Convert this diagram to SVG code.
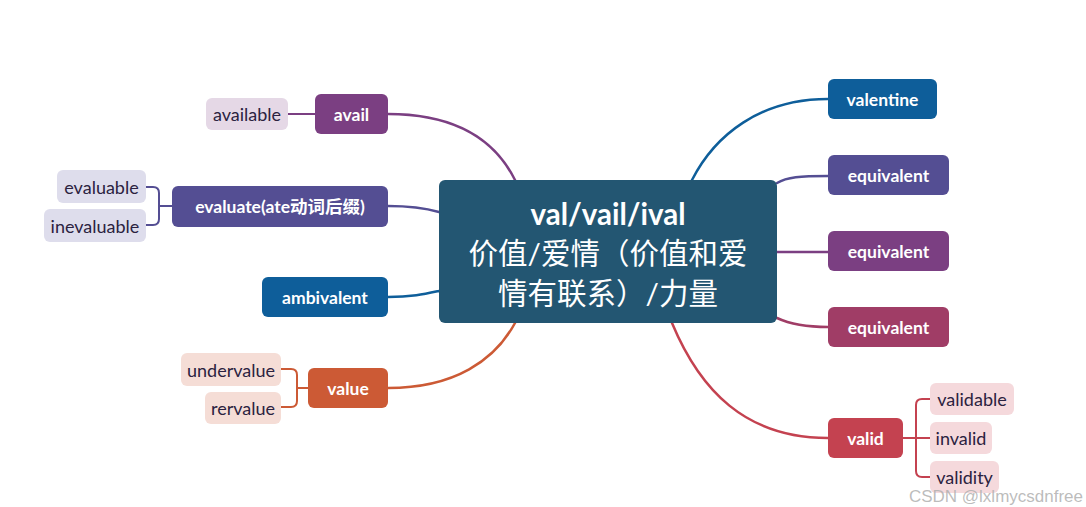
<svg xmlns="http://www.w3.org/2000/svg" width="1086" height="507" viewBox="0 0 1086 507">
<style>
.t{font-family:Lato,"Noto Sans","Noto Sans CJK SC",sans-serif;text-anchor:middle;dominant-baseline:central}
.m{fill:#fff;font-weight:bold;font-size:17.5px}
.s{fill:#2b2240;font-size:18px}
.c{fill:#fff;font-size:29.5px}
.ln{fill:none;stroke-width:2.5;stroke-linecap:round}
.sl{fill:none;stroke-width:2}
</style>
<rect width="1086" height="507" fill="#fff"/>
<g id="connectors">
<path class="ln" stroke="#7B3F82" d="M388,114 C455,114 495,140 515,180"/>
<path class="ln" stroke="#544E93" d="M388,206 C412,206 425,208 439,212"/>
<path class="ln" stroke="#0E5E9A" d="M388,297 C412,297 425,294 439,291"/>
<path class="ln" stroke="#CC5A35" d="M388,388 C455,388 495,360 515,323"/>
<path class="ln" stroke="#0E5E9A" d="M828,99 C760,99 715,135 692,180"/>
<path class="ln" stroke="#544E93" d="M828,176 C800,176 787,177 777,183"/>
<path class="ln" stroke="#7B3F82" d="M777,252 L828,252"/>
<path class="ln" stroke="#A03D66" d="M777,318 C792,325 808,327 828,327"/>
<path class="ln" stroke="#C44250" d="M828,438 C745,438 700,390 672,323"/>
<path class="sl" stroke="#7B3F82" d="M288,114 L315,114"/>
<path class="sl" stroke="#544E93" d="M172,206 L159,206 M146,187 L153,187 Q159,187 159,193 L159,219 Q159,225 153,225 L146,225"/>
<path class="sl" stroke="#CC5A35" d="M308,388 L297,388 M281,369 L291,369 Q297,369 297,375 L297,401 Q297,407 291,407 L281,407"/>
<path class="sl" stroke="#C44250" d="M903,438 L930,438 M930,399 L922,399 Q916,399 916,405 L916,471 Q916,477 922,477 L930,477"/>
</g>
<g id="center">
<rect x="439" y="180" width="338" height="143" rx="6" fill="#235672"/>
<text class="t c" x="608" y="213" font-weight="bold">val/vail/ival</text>
<text class="t c" x="608" y="252">价值/爱情（价值和爱</text>
<text class="t c" x="608" y="292">情有联系）/力量</text>
</g>
<g id="avail"><rect x="315" y="94" width="73" height="40" rx="6" fill="#7B3F82"/><text class="t m" x="351.5" y="114">avail</text></g>
<g id="available"><rect x="206" y="98" width="82" height="32" rx="6" fill="#E5D8E6"/><text class="t s" x="247" y="114">available</text></g>
<g id="evaluate"><rect x="172" y="186" width="216" height="41" rx="6" fill="#544E93"/><text class="t m" x="280" y="206.5">evaluate(ate动词后缀)</text></g>
<g id="evaluable"><rect x="57" y="170" width="89" height="33" rx="6" fill="#DEDDEC"/><text class="t s" x="101.5" y="186.5">evaluable</text></g>
<g id="inevaluable"><rect x="44" y="209" width="102" height="33" rx="6" fill="#DEDDEC"/><text class="t s" x="95" y="225.5">inevaluable</text></g>
<g id="ambivalent"><rect x="262" y="277" width="126" height="40" rx="6" fill="#0E5E9A"/><text class="t m" x="325" y="297">ambivalent</text></g>
<g id="value"><rect x="308" y="368" width="80" height="40" rx="6" fill="#CC5A35"/><text class="t m" x="348" y="388">value</text></g>
<g id="undervalue"><rect x="181" y="353" width="100" height="33" rx="6" fill="#F5DDD6"/><text class="t s" x="231" y="369.5">undervalue</text></g>
<g id="rervalue"><rect x="205" y="392" width="76" height="32" rx="6" fill="#F5DDD6"/><text class="t s" x="243" y="408">rervalue</text></g>
<g id="valentine"><rect x="828" y="79" width="109" height="40" rx="6" fill="#0E5E9A"/><text class="t m" x="882.5" y="99">valentine</text></g>
<g id="equivalent1"><rect x="828" y="155" width="121" height="40" rx="6" fill="#544E93"/><text class="t m" x="888.5" y="175">equivalent</text></g>
<g id="equivalent2"><rect x="828" y="231" width="121" height="40" rx="6" fill="#7B3F82"/><text class="t m" x="888.5" y="251">equivalent</text></g>
<g id="equivalent3"><rect x="828" y="307" width="121" height="40" rx="6" fill="#A03D66"/><text class="t m" x="888.5" y="327">equivalent</text></g>
<g id="valid"><rect x="828" y="418" width="75" height="40" rx="6" fill="#C44250"/><text class="t m" x="865.5" y="438">valid</text></g>
<g id="validable"><rect x="930" y="383" width="84" height="32" rx="6" fill="#F5D9DC"/><text class="t s" x="972" y="399">validable</text></g>
<g id="invalid"><rect x="930" y="422" width="62" height="32" rx="6" fill="#F5D9DC"/><text class="t s" x="961" y="438">invalid</text></g>
<g id="validity"><rect x="930" y="461" width="69" height="32" rx="6" fill="#F5D9DC"/><text class="t s" x="964.5" y="477">validity</text></g>
<text x="1083" y="496" font-family="'Liberation Sans',sans-serif" font-size="17" fill="#b0b0b0" fill-opacity="0.85" text-anchor="end" dominant-baseline="central">CSDN @lxlmycsdnfree</text>
</svg>
